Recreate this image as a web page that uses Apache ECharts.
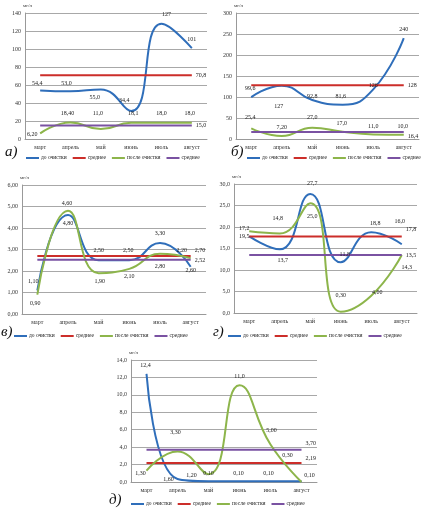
<!DOCTYPE html>
<html><head><meta charset="utf-8">
<script src="https://cdn.jsdelivr.net/npm/echarts@6/dist/echarts.min.js"></script>
<style>html,body{margin:0;padding:0;background:#fff}#c{width:427px;height:513px}</style>
</head><body><div id="c"></div>
<script>
// ---------- DATA ----------
const categories = ['март','апрель','май','июнь','июль','август'];
const unit = 'мг/л';
const legendNames = ['до очистки','среднее','после очистки','среднее\u00a0'];

// а)
const aBefore = [54, 53, 55, 31, 128, 101];
const aBeforeLabels = ['54,4','53,0','55,0','34,4','127','101'];
const aAfter = [6.2, 18.4, 11, 18, 18, 18];
const aAfterLabels = ['6,20','18,40','11,0','18,1','18,0','18,0'];
const aAvgBefore = 70.8, aAvgBeforeLabel = '70,8';
const aAvgAfter = 15.0, aAvgAfterLabel = '15,0';
const aTicks = {min:0, max:140, interval:20};

// б)
const bBefore = [99.6, 127, 92.8, 81.6, 118, 240];
const bBeforeLabels = ['99,6','127','92,8','81,6','126','240'];
const bAfter = [25.4, 7.2, 27, 17, 11, 10];
const bAfterLabels = ['25,4','7,20','27,0','17,0','11,0','10,0'];
const bAvgBefore = 128, bAvgBeforeLabel = '128';
const bAvgAfter = 16.4, bAvgAfterLabel = '16,4';
const bTicks = {min:0, max:300, interval:50};

// в)
const vBefore = [1.1, 4.6, 2.5, 2.5, 3.3, 2.2];
const vBeforeLabels = ['1,10','4,80','2,50','2,50','3,30','2,20'];
const vAfter = [0.9, 4.8, 1.9, 2.1, 2.8, 2.6];
const vAfterLabels = ['0,90','4,60','1,90','2,10','2,80','2,60'];
const vAvgBefore = 2.70, vAvgBeforeLabel = '2,70';
const vAvgAfter = 2.52, vAvgAfterLabel = '2,52';
const vTicks = {min:0, max:6, interval:1};

// г)
const gBefore = [17.8, 14.8, 27.7, 11.8, 18.8, 16.0];
const gBeforeLabels = ['19,5','13,7','27,7','11,8','18,8','16,0'];
const gAfter = [19.0, 18.5, 25.5, 0.3, 4.0, 13.5];
const gAfterLabels = ['17,2','14,8','25,0','0,30','4,00','14,3'];
const gAvgBefore = 17.8, gAvgBeforeLabel = '17,8';
const gAvgAfter = 13.5, gAvgAfterLabel = '13,5';
const gTicks = {min:0, max:30, interval:5};

// д)
const dBefore = [12.4, 0.35, 0.1, 0.1, 0.1, 0.1];
const dBeforeLabels = ['12,4','1,60','0,10','0,10','0,10','0,10'];
const dAfter = [1.3, 3.5, 0.9, 11.1, 4.3, 0.0];
const dAfterLabels = ['1,30','3,30','1,20','11,0','5,00','0,30'];
const dAvgBefore = 2.19, dAvgBeforeLabel = '2,19';
const dAvgAfter = 3.70, dAvgAfterLabel = '3,70';
const dTicks = {min:0, max:14, interval:2};

// ---------- LAYOUT / STYLE ----------
const FONT = '"Liberation Serif","DejaVu Serif",serif';
const C_BLUE = '#2F6EBA', C_RED = '#CC2E2A', C_GREEN = '#8DB54B', C_PURPLE = '#7A52A2';

const panels = [
  {letter:'а)', grid:{left:25, top:13, width:182, height:126}, ticks:aTicks, dec:0,
   before:aBefore, beforeL:aBeforeLabels, after:aAfter, afterL:aAfterLabels,
   avgB:aAvgBefore, avgBL:aAvgBeforeLabel, avgA:aAvgAfter, avgAL:aAvgAfterLabel,
   offB:[[-3,-7],[-4,-8],[-6,8],[-7,-11],[5,-9],[0,-9]],
   offA:[[-8,1],[-3,-9],[-3,-16],[2,-9],[0,-9],[-2,-9]],
   avgOffB:0, avgOffA:0,
   legend:{left:26, top:155}, letterPos:{left:5, top:145}},
  {letter:'б)', grid:{left:236, top:13, width:183, height:126}, ticks:bTicks, dec:0,
   before:bBefore, beforeL:bBeforeLabels, after:bAfter, afterL:bAfterLabels,
   avgB:bAvgBefore, avgBL:bAvgBeforeLabel, avgA:bAvgAfter, avgAL:bAvgAfterLabel,
   offB:[[-1,-9],[-3,21],[0,-4],[-2,-8],[0,-4],[0,-9]],
   offA:[[-1,-11],[0,-9],[0,-10],[-1,-8],[0,-8],[-1,-8]],
   avgOffB:0, avgOffA:4,
   legend:{left:247, top:155}, letterPos:{left:231, top:145}},
  {letter:'в)', grid:{left:22, top:185, width:184, height:129}, ticks:vTicks, dec:2,
   before:vBefore, beforeL:vBeforeLabels, after:vAfter, afterL:vAfterLabels,
   avgB:vAvgBefore, avgBL:vAvgBeforeLabel, avgA:vAvgAfter, avgAL:vAvgAfterLabel,
   offB:[[-4,-9],[0,8],[0,-10],[-1,-10],[0,-10],[-9,-16]],
   offA:[[-2,9],[-1,-7],[1,8],[0,8],[0,13],[0,12]],
   avgOffB:-6, avgOffA:1,
   legend:{left:14, top:333}, letterPos:{left:1, top:325}},
  {letter:'г)', grid:{left:234, top:184, width:183, height:129}, ticks:gTicks, dec:1,
   before:gBefore, beforeL:gBeforeLabels, after:gAfter, afterL:gAfterLabels,
   avgB:gAvgBefore, avgBL:gAvgBeforeLabel, avgA:gAvgAfter, avgAL:gAvgAfterLabel,
   offB:[[-5,0],[3,11],[2,-10],[4,-8],[4,-9],[-2,-23]],
   offA:[[-5,-3],[-2,-15],[2,13],[0,-16],[6,-3],[5,12]],
   avgOffB:-7, avgOffA:0,
   legend:{left:228, top:333}, letterPos:{left:213, top:325}},
  {letter:'д)', grid:{left:131, top:360, width:186, height:122}, ticks:dTicks, dec:1,
   before:dBefore, beforeL:dBeforeLabels, after:dAfter, afterL:dAfterLabels,
   avgB:dAvgBefore, avgBL:dAvgBeforeLabel, avgA:dAvgAfter, avgAL:dAvgAfterLabel,
   offB:[[-1,-9],[-9,0],[0,-8],[-1,-8],[-2,-8],[8,-6]],
   offA:[[-6,3],[-2,-19],[-17,1],[0,-9],[1,-14],[-14,-27]],
   avgOffB:-4, avgOffA:-6,
   legend:{left:131, top:501}, letterPos:{left:109, top:493}}
];

const fmt = (v, dec) => v.toFixed(dec).replace('.', ',');

const grids = [], xAxes = [], yAxes = [], series = [], legends = [], graphics = [];

function valueSeries(name, color, idx, values, labels, offsets) {
  return {
    type:'line', name, xAxisIndex:idx, yAxisIndex:idx, smooth:0.5,
    symbol:'circle', symbolSize:0.5, showSymbol:true,
    lineStyle:{color, width:2}, itemStyle:{color},
    label:{show:true, position:'inside', fontSize:6, fontFamily:FONT, color:'#222'},
    data: values.map((v,i)=>({value:v, label:{formatter:labels[i], offset:offsets[i]}})),
    emphasis:{disabled:true}, silent:true, animation:false
  };
}
function avgSeries(name, color, idx, avg, label, dy) {
  return {
    type:'line', name, xAxisIndex:idx, yAxisIndex:idx, symbol:'none',
    lineStyle:{color, width:2}, itemStyle:{color},
    data: categories.map(()=>avg),
    endLabel:{show:true, formatter:label, fontSize:6, fontFamily:FONT, color:'#222', distance:4, offset:[0,dy]},
    emphasis:{disabled:true}, silent:true, animation:false
  };
}

panels.forEach((p, i) => {
  grids.push(Object.assign({containLabel:false}, p.grid));
  xAxes.push({type:'category', gridIndex:i, data:categories, boundaryGap:true,
    axisTick:{show:false}, axisLine:{show:true, lineStyle:{color:'#999'}},
    axisLabel:{fontSize:6, fontFamily:FONT, color:'#333', margin:5, interval:0}});
  yAxes.push({type:'value', gridIndex:i, min:p.ticks.min, max:p.ticks.max, interval:p.ticks.interval,
    name:unit, nameLocation:'end', nameGap:5,
    nameTextStyle:{fontSize:5, fontFamily:FONT, color:'#333', align:'left', padding:[0,0,0,-2]},
    axisLine:{show:true, lineStyle:{color:'#999'}}, axisTick:{show:false},
    splitLine:{lineStyle:{color:'#a8a8a8', width:1}},
    axisLabel:{fontSize:6, fontFamily:FONT, color:'#333', margin:4, formatter:v=>fmt(v,p.dec)}});
  series.push(valueSeries(legendNames[0], C_BLUE, i, p.before, p.beforeL, p.offB));
  series.push(avgSeries(legendNames[1], C_RED, i, p.avgB, p.avgBL, p.avgOffB));
  series.push(valueSeries(legendNames[2], C_GREEN, i, p.after, p.afterL, p.offA));
  series.push(avgSeries(legendNames[3], C_PURPLE, i, p.avgA, p.avgAL, p.avgOffA));
  legends.push({left:p.legend.left, top:p.legend.top, width:200, data:legendNames, icon:'rect',
    itemWidth:13, itemHeight:2, itemGap:6, selectedMode:false, padding:0,
    textStyle:{fontSize:5.5, fontFamily:FONT, color:'#222', padding:[0,0,0,-3]}});
  graphics.push({type:'text', left:p.letterPos.left, top:p.letterPos.top,
    style:{text:p.letter, font:'italic 15px ' + FONT, fill:'#111'}});
});

const chart = echarts.init(document.getElementById('c'), null, {renderer:'canvas'});
chart.setOption({
  animation:false, backgroundColor:'#fff',
  grid:grids, xAxis:xAxes, yAxis:yAxes, series, legend:legends, graphic:graphics
});
</script></body></html>
